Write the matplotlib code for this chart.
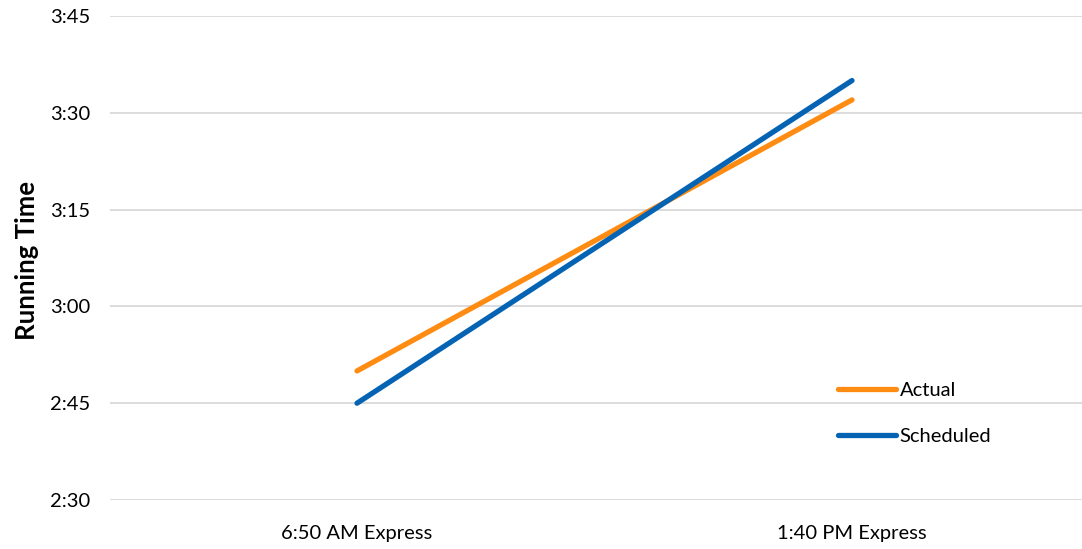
import matplotlib
matplotlib.use("Agg")
import matplotlib.pyplot as plt
from matplotlib.ticker import FixedLocator, FuncFormatter

categories = ["6:50 AM Express", "1:40 PM Express"]
actual_min = [170, 212]      # running time in minutes
scheduled_min = [165, 215]
y_ticks = [150, 165, 180, 195, 210, 225]

plt.rcParams['font.family'] = ['Lato', 'DejaVu Sans']

fig = plt.figure(figsize=(10.82, 5.49), dpi=100)
W, H = 1082, 549
left_px, right_px, top_px, bottom_px = 109.5, 1099.5, 16, 500
ax = fig.add_axes([left_px / W, (H - bottom_px) / H,
                   (right_px - left_px) / W, (bottom_px - top_px) / H])

x = list(range(len(categories)))
ax.plot(x, actual_min, color='#FF8C12', lw=3.8, solid_capstyle='round', label='Actual')
ax.plot(x, scheduled_min, color='#0563B4', lw=3.8, solid_capstyle='round', label='Scheduled')

ax.set_xlim(-0.5, 1.5)
ax.set_ylim(150, 225)
ax.yaxis.set_major_locator(FixedLocator(y_ticks))
ax.yaxis.set_major_formatter(FuncFormatter(lambda v, p: f"{int(v)//60}:{int(v)%60:02d}"))
ax.set_xticks(x)
ax.set_xticklabels(categories)
ax.grid(axis='y', color='#D9D9D9', lw=1.3)
ax.set_axisbelow(True)
for s in ax.spines.values():
    s.set_visible(False)
ax.tick_params(axis='both', length=0, labelsize=14.5, colors='black')
ax.tick_params(axis='y', pad=14)
ax.tick_params(axis='x', pad=18)

fig.text(27 / W, (H - 260) / H, "Running Time", fontsize=18.5, fontweight='bold',
         rotation=90, ha='center', va='center')

leg = fig.legend(loc='upper left', bbox_to_anchor=(828 / W, 1 - 372 / H),
                 frameon=False, fontsize=14.5, handlelength=2.9, handletextpad=0.15,
                 labelspacing=1.45, borderpad=0)

fig.savefig("out.png", dpi=100)
